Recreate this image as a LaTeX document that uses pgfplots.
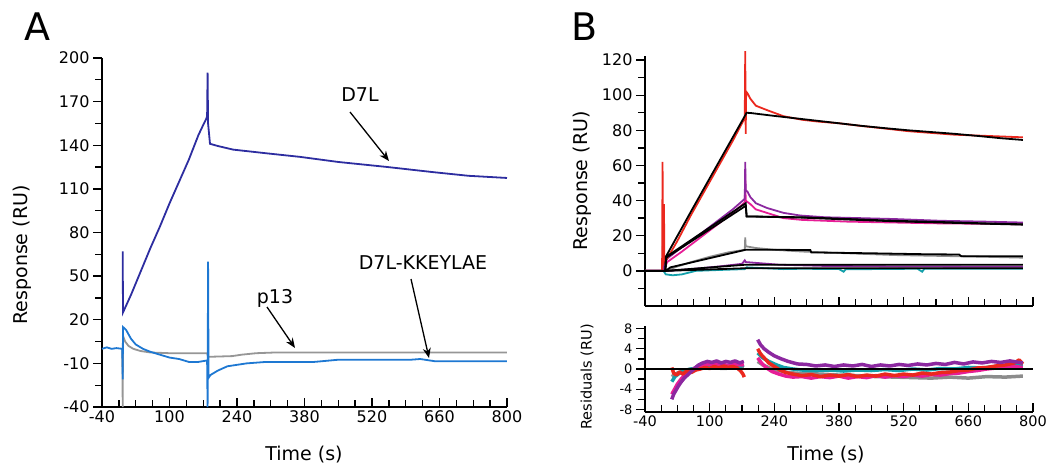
\documentclass[border=0pt]{standalone}
\usepackage{fontspec}
\setmainfont{DejaVu Sans}
\usepackage{pgfplots}
\pgfplotsset{compat=1.18}
\usetikzlibrary{arrows.meta}

\definecolor{dsevenl}{RGB}{45,45,160}
\definecolor{kkey}{RGB}{30,120,210}
\definecolor{pgray}{RGB}{150,150,150}
\definecolor{cred}{RGB}{235,40,30}
\definecolor{cpurple}{RGB}{140,40,160}
\definecolor{cmag}{RGB}{230,30,150}
\definecolor{cgray}{RGB}{140,140,140}
\definecolor{cteal}{RGB}{20,160,170}

\pgfplotsset{
  panel/.style={
    scale only axis, clip=false,
    axis lines*=left,
    axis line style={line width=1.6pt, black},
    xtick style={black, line width=1.3pt},
    ytick style={black, line width=1.3pt},
    major tick length=9pt, minor tick length=7pt,
    xtick align=inside, ytick align=outside,
    xmin=-40, xmax=800, xtick={-40,100,...,800}, minor x tick num=3,
    /pgf/number format/assume math mode=true,
    tick label style={font=\fontsize{16}{18}\selectfont},
  },
  trace/.style={line width=1.8pt, no marks},
  resid/.style={line width=3.5pt, no marks, line join=round},
}

\newcommand{\lab}{\fontsize{19}{21}\selectfont}

\begin{document}
\begin{tikzpicture}
\useasboundingbox (0,0) rectangle (1050pt,-468pt);

% ---------------- panel A ----------------
\begin{axis}[panel, at={(102pt,-407pt)}, anchor=south west,
  width=405pt, height=349pt,
  ymin=-40, ymax=200, ytick={-40,-10,...,200}, minor y tick num=1]
\addplot[trace, color=pgray] coordinates {
  (2,0) (3,-40) (3.5,9) (8,5) (15,2) (25,0) (40,-1.5) (60,-2.5) (100,-3)
  (178,-3) (180,-5.5) (230,-5) (250,-4) (280,-3) (320,-2.5) (800,-2.5)};
\addplot[trace, color=kkey] coordinates {
  (-40,0) (-30,1) (-20,0) (-10,0.5) (2,0) (3,-21) (3.5,15) (10,13) (20,7)
  (30,3) (45,0) (60,-2) (80,-4) (100,-6) (120,-7) (140,-9) (160,-9) (178,-8)
  (179,-40) (180,60) (181,-20) (185,-18) (200,-15) (220,-12) (240,-11)
  (260,-10) (300,-9) (400,-9) (450,-7.5) (500,-7.5) (600,-7.5) (620,-7)
  (650,-8.5) (800,-8.5)};
\addplot[trace, color=dsevenl] coordinates {
  (3,67) (3.5,25) (20,37) (40,53) (60,69) (80,84) (100,100) (120,115)
  (140,130) (160,147) (170,154) (176,158) (178,160) (179,190)
  (180,155) (184,141) (200,139.5) (232,137) (300,134.5) (371,132) (450,128.5)
  (553,125) (647,121.5) (720,119) (800,117.5)};
\end{axis}

% ---------------- panel B, sensorgrams ----------------
\begin{axis}[panel, at={(645pt,-306pt)}, anchor=south west,
  width=388pt, height=249.5pt, xticklabels={},
  ymin=-20, ymax=122, ytick={0,20,...,120}, minor ytick={-10,10,...,110}]
\addplot[trace, color=cteal] coordinates {
  (-40,0) (0,0) (5,-2) (20,-2.5) (40,-2) (55,-1) (70,0) (120,0.5) (176,1)
  (180,2) (220,1.5) (260,1) (300,1.2) (380,1) (390,-0.5) (395,1) (450,1)
  (550,1.2) (560,-0.5) (565,1.2) (778,1.2)};
\addplot[trace, color=cpurple] coordinates {
  (-40,0) (10,0) (60,1) (120,2.5) (170,4) (176,6) (178,5) (250,3.5)
  (350,2.8) (500,2.5) (778,2.3)};
\addplot[trace, color=cgray] coordinates {
  (-40,0) (5,0) (30,2.5) (60,5) (100,8) (140,10.5) (176,12) (177,19)
  (178,14) (200,13) (240,12) (300,11) (400,10) (500,9) (600,8.5) (700,8)
  (778,7.5)};
\addplot[trace, color=cmag] coordinates {
  (-40,0) (0,0) (8,5) (40,11) (80,19) (120,27) (150,33) (176,39) (177,55)
  (178,40) (188,38) (200,35) (224,33) (260,30) (300,29) (400,28) (500,27.5)
  (600,27) (700,26.8) (778,26.5)};
\addplot[trace, color=cpurple] coordinates {
  (-40,0) (-2,0) (-1,19) (0,2) (8,7) (40,13.5) (80,21) (120,29) (150,35)
  (176,41) (177,62) (178,46) (182,45) (188,42) (200,38.5) (224,35.8)
  (260,33) (296,31.5) (350,30.5) (427,30) (500,29.5) (600,28.5) (700,28)
  (778,27.5)};
\addplot[trace, color=cred] coordinates {
  (-40,0) (-3,0) (-2,62) (-1,3) (1,38) (2,5) (8,7) (30,17) (60,32) (90,46)
  (120,60) (150,74) (176,87) (177,125) (178,78) (179,102) (182,101) (188,98)
  (200,94) (224,91.5) (260,88) (300,86) (333,85) (380,84) (427,82.5)
  (480,81) (530,79.5) (580,78.5) (630,77.5) (680,77) (730,76.5) (778,76)};
% fitted curves
\addplot[trace, color=black] coordinates {
  (-40,0) (4,0) (5,8) (60,34) (120,62) (178,89) (180,90) (190,89.8)
  (230,88.5) (280,87) (330,85.5) (380,84) (430,82.5) (480,81.2) (530,80)
  (580,79) (630,78) (680,76.8) (730,75.5) (778,74.5)};
\addplot[trace, color=black] coordinates {
  (4,0) (6,8) (178,38.5) (180,31) (300,30.5) (400,29.5) (500,28.5)
  (600,27.8) (700,27) (778,26.5)};
\addplot[trace, color=black] coordinates {
  (4,0) (6,7.5) (178,37) (180,31) (300,30.3) (400,29.2) (500,28.2)
  (600,27.5) (700,26.8) (778,26.3)};
\addplot[trace, color=black] coordinates {
  (5,0) (15,2) (178,12) (250,12) (318,11.8) (320,10.5) (450,10) (560,9.5)
  (640,9.3) (645,8.3) (778,8.3)};
\addplot[trace, color=black] coordinates {(5,0) (178,3.5) (778,3.5)};
\addplot[trace, color=black] coordinates {(5,0) (178,1.5) (778,1.5)};
\end{axis}

% ---------------- panel B, residuals ----------------
\begin{axis}[panel, at={(645pt,-412pt)}, anchor=south west,
  width=388pt, height=86pt,
  tick label style={font=\fontsize{14.5}{16}\selectfont},
  yticklabel style={font=\fontsize{13}{15}\selectfont},
  ymin=-8.5, ymax=8.5, ytick={-8,-4,...,8}, minor y tick num=1]
% gray
\addplot[resid, color=cgray] coordinates {
  (18,-1.5) (30,-0.8) (45,-0.3) (60,0) (80,0.2) (100,0.3) (130,0.1) (160,0.3) (174,0.2)};
\addplot[resid, color=cgray] coordinates {
  (204,1.5) (215,0.8) (230,0.2) (250,-0.3) (270,-0.7) (300,-0.9) (340,-1)
  (380,-1.2) (420,-1.3) (460,-1.5) (500,-1.6) (540,-1.7) (580,-1.8)
  (620,-1.6) (660,-1.8) (700,-1.5) (740,-1.6) (778,-1.4)};
% teal
\addplot[resid, color=cteal] coordinates {
  (18,-2.5) (25,-1.5) (35,-0.8) (45,-0.3) (60,0) (80,0.3) (100,0.5) (120,0.2)
  (140,0.6) (160,0.3) (174,0.8)};
\addplot[resid, color=cteal] coordinates {
  (204,3.2) (215,2.2) (228,1.5) (245,0.8) (260,0.3) (280,0) (300,-0.2)
  (330,-0.3) (360,-0.2) (390,-0.4) (420,-0.2) (450,-0.3) (480,-0.1)
  (510,-0.3) (540,0) (570,-0.2) (600,0.1) (630,0) (660,0.3) (690,0.2)
  (720,0.5) (750,0.6) (778,0.8)};
% magenta
\addplot[resid, color=cmag] coordinates {
  (18,-5) (24,-4) (30,-3) (38,-2) (46,-1.2) (55,-0.6) (65,0) (75,0.5)
  (85,0.8) (95,1) (110,0.8) (125,1) (140,0.7) (155,1) (170,0.8) (174,0.9)};
\addplot[resid, color=cmag] coordinates {
  (204,2.2) (212,1.2) (222,0.3) (235,-0.5) (250,-1) (265,-1.4) (280,-1.6)
  (300,-1.5) (320,-1.8) (340,-1.5) (360,-1.7) (380,-1.4) (400,-1.8)
  (420,-1.5) (440,-1.7) (460,-1.3) (480,-1.6) (500,-1.3) (520,-1.5)
  (540,-1.2) (560,-1.4) (580,-1.1) (600,-1.2) (620,-0.9) (640,-0.8)
  (660,-0.5) (680,-0.3) (700,0) (720,0.2) (740,0.4) (760,0.5) (778,0.3)};
% red
\addplot[resid, color=cred] coordinates {
  (18,0.3) (22,-0.8) (28,-1.2) (35,-0.6) (42,-1) (50,-0.4) (60,-0.7)
  (70,-0.2) (80,0) (90,0.3) (100,0.1) (110,0.5) (120,0.2) (130,0.6)
  (140,0.3) (150,0.5) (160,0.2) (168,-0.5) (172,-1) (175,-1.6)};
\addplot[resid, color=cred] coordinates {
  (204,4) (210,3) (218,2.2) (228,1.2) (240,0.5) (252,-0.2) (265,-0.7)
  (280,-1) (300,-1.3) (320,-1.1) (340,-1.5) (360,-1.2) (380,-1.4)
  (400,-1.1) (420,-1.5) (440,-1.2) (460,-1.4) (480,-1) (500,-1.3) (520,-1)
  (540,-1.2) (560,-0.8) (580,-1) (600,-0.7) (620,-0.6) (640,-0.3)
  (660,-0.2) (680,0.2) (700,0.3) (720,0.6) (740,0.8) (760,1.2) (770,1.8)
  (778,1)};
% purple
\addplot[resid, color=cpurple] coordinates {
  (18,-6) (22,-5) (27,-4.2) (32,-3.4) (38,-2.6) (45,-1.8) (52,-1.2)
  (60,-0.5) (68,0.2) (76,0.8) (85,1.2) (95,1.5) (105,1.3) (115,1.6)
  (125,1.2) (135,1.5) (145,1.3) (155,1.6) (165,1.2) (174,1.5)};
\addplot[resid, color=cpurple] coordinates {
  (204,5.8) (210,4.8) (218,4) (228,3.3) (240,2.6) (255,2) (270,1.5)
  (290,1) (310,0.9) (330,0.6) (350,0.8) (370,0.5) (390,0.8) (410,0.6)
  (430,0.9) (450,0.5) (470,0.8) (490,0.6) (510,0.9) (530,0.7) (550,1)
  (570,0.8) (590,1.1) (610,0.9) (630,1.3) (650,1) (670,1.4) (690,1.2)
  (710,1.5) (730,1.3) (750,1.6) (770,1.3) (778,1.2)};
\addplot[line width=1.6pt, color=black, no marks] coordinates {(-40,0) (800,0)};
\end{axis}

% ---------------- labels ----------------
\node[font=\fontsize{38}{40}\selectfont] at (37pt,-27pt) {A};
\node[font=\fontsize{38}{40}\selectfont] at (585pt,-27pt) {B};
\node[rotate=90, font=\lab] at (22pt,-255pt) {Response (RU)};
\node[rotate=90, font=\lab] at (582pt,-181pt) {Response (RU)};
\node[rotate=90, font=\fontsize{14.5}{16}\selectfont] at (587pt,-377pt) {Residuals (RU)};
\node[font=\lab] at (304pt,-455pt) {Time (s)};
\node[font=\lab] at (826pt,-455pt) {Time (s)};

\node[font=\lab] at (360pt,-95pt) {D7L};
\node[font=\lab] at (423pt,-263pt) {D7L-KKEYLAE};
\node[font=\lab] at (275pt,-298pt) {p13};
\draw[line width=1.3pt, -{Stealth[length=10pt,width=8pt]}] (350pt,-112pt) -- (389pt,-161pt);
\draw[line width=1.3pt, -{Stealth[length=10pt,width=8pt]}] (411pt,-279pt) -- (429pt,-358pt);
\draw[line width=1.3pt, -{Stealth[length=10pt,width=8pt]}] (267pt,-307pt) -- (295pt,-348pt);
\end{tikzpicture}
\end{document}
